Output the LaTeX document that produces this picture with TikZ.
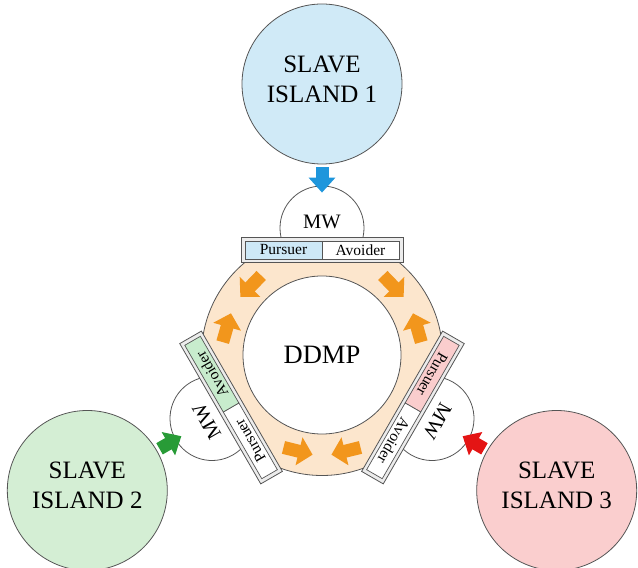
\documentclass[tikz,border=0pt]{standalone}
\usepackage{fontspec}
\setmainfont{Liberation Serif}
\usetikzlibrary{arrows.meta,calc}
\definecolor{isla}{RGB}{208,234,247}
\definecolor{islb}{RGB}{212,238,212}
\definecolor{islc}{RGB}{250,206,206}
\definecolor{ringc}{RGB}{252,230,205}
\definecolor{edgec}{RGB}{85,85,85}
\definecolor{arrblue}{RGB}{30,150,220}
\definecolor{arrgreen}{RGB}{40,155,55}
\definecolor{arrred}{RGB}{228,20,20}
\definecolor{arrorange}{RGB}{242,150,28}
\definecolor{cellblue}{RGB}{205,232,246}
\definecolor{cellgreen}{RGB}{200,236,205}
\definecolor{cellpink}{RGB}{250,205,205}
\newcommand\mwassembly[4]{%
\begin{scope}[shift={(c)}, rotate=#1]
  \begin{scope}[rotate=136]
    \coordinate (fa#2) at (99,-15);
    \coordinate (fb#2) at (99,15);
  \end{scope}
  \begin{scope}[rotate=44]
    \coordinate (fc#2) at (99,15);
    \coordinate (fd#2) at (99,-15);
  \end{scope}
  \draw[flow] (fa#2) -- (fb#2);
  \draw[flow] (fc#2) -- (fd#2);
  \begin{scope}
    \clip (-120,105) rectangle (120,200);
    \node[mwcirc] (mw#2) at (0,127) {};
  \end{scope}
  \node[mwtext] (mwt#2) at (0,133) {MW};
  \node[frame] (bar#2) at (0,105) {};
  \node[cell, fill=#3] (pur#2) at (-38.5,105) {Pursuer};
  \node[cell, fill=#4] (avo#2) at (38.5,105) {Avoider};
\end{scope}}
\begin{document}
\begin{tikzpicture}[x=1pt,y=1pt,
  island/.style={circle, draw=edgec, line width=0.8pt, minimum size=160pt, inner sep=0pt},
  isltext/.style={align=center, inner sep=0pt, font=\fontsize{25}{30}\selectfont},
  mwcirc/.style={circle, draw=edgec, fill=white, line width=0.8pt, minimum size=84pt, inner sep=0pt, transform shape},
  mwtext/.style={font=\fontsize{20.5}{24}\selectfont, transform shape, inner sep=0pt},
  frame/.style={rectangle, draw=edgec, fill=gray!15, line width=0.8pt, minimum width=162pt, minimum height=25pt, inner sep=0pt, transform shape},
  cell/.style={rectangle, draw=edgec, line width=0.7pt, minimum width=77pt, minimum height=18pt, inner sep=0pt, transform shape, font=\fontsize{15.5}{18}\selectfont},
  feed/.style={line width=13pt, -{Triangle[length=15pt,width=26pt]}, shorten <=3pt, shorten >=-7pt},
  flow/.style={line width=13pt, arrorange, -{Triangle[length=14pt,width=28pt]}}
]
\useasboundingbox (0,0) rectangle (638,568);
\coordinate (c) at (322,213);
\node[circle, draw=edgec, fill=ringc, line width=0.8pt, minimum size=241pt, inner sep=0pt] (ring) at (c) {};
\node[circle, draw=edgec, fill=white, line width=0.8pt, minimum size=158pt, inner sep=0pt, font=\fontsize{26.5}{30}\selectfont] (ddmp) at (c) {DDMP};
\mwassembly{0}{1}{cellblue}{white}
\mwassembly{120}{2}{white}{cellgreen}
\mwassembly{240}{3}{cellpink}{white}
\node[island, fill=isla] (isl1) at ($(c)+(90:271)$) {};
\node[island, fill=islb] (isl2) at ($(c)+(210:271)$) {};
\node[island, fill=islc] (isl3) at ($(c)+(330:271)$) {};
\node[isltext] (isl1t) at ($(isl1)+(0,5)$) {SLAVE\\ISLAND 1};
\node[isltext] (isl2t) at ($(isl2)+(0,5)$) {SLAVE\\ISLAND 2};
\node[isltext] (isl3t) at ($(isl3)+(0,5)$) {SLAVE\\ISLAND 3};
\draw[feed, arrblue] (isl1) -- (mw1);
\draw[feed, arrgreen] (isl2) -- (mw2);
\draw[feed, arrred] (isl3) -- (mw3);
\end{tikzpicture}
\end{document}
